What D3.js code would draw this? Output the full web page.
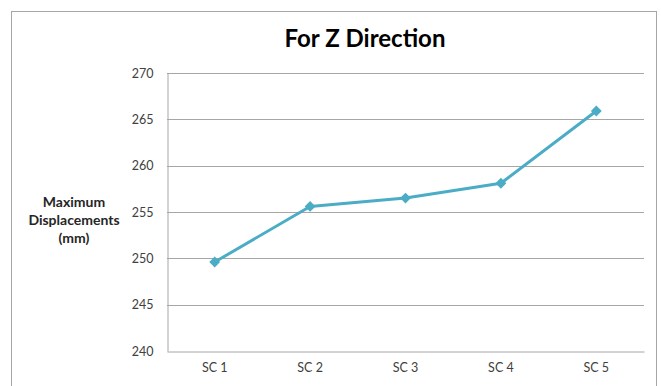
<!DOCTYPE html>
<html>
<head>
<meta charset="utf-8">
<script src="https://cdn.jsdelivr.net/npm/d3@7"></script>
<style>
  html, body { margin: 0; padding: 0; background: #fff; }
  svg { display: block; }
  text { font-family: Lato, "Open Sans", "DejaVu Sans", sans-serif; }
</style>
</head>
<body>
<script>
// Maximum displacement per scenario, Z direction
const categories = ["SC 1", "SC 2", "SC 3", "SC 4", "SC 5"];
const displacements = [249.6, 255.6, 256.5, 258.1, 265.9];
const yTicks = [240, 245, 250, 255, 260, 265, 270];
const chartTitle = "For Z Direction";
const yTitleLines = ["Maximum", "Displacements", "(mm)"];

const W = 661, H = 386;
const plot = { left: 167, right: 644, top: 73, bottom: 351 };

const svg = d3.select("body").append("svg")
  .attr("width", W).attr("height", H);

svg.append("rect").attr("width", W).attr("height", H).attr("fill", "#fff");

// chart frame
svg.append("rect")
  .attr("x", 11.5).attr("y", 11.5)
  .attr("width", 645).attr("height", 390)
  .attr("fill", "none").attr("stroke", "#a6a6a6").attr("stroke-width", 1);

const x = d3.scaleBand().domain(categories).range([plot.left, plot.right]);
const y = d3.scaleLinear().domain([240, 270]).range([plot.bottom, plot.top]);

// horizontal gridlines
svg.append("g")
  .selectAll("line").data(yTicks.filter(t => t !== 240)).join("line")
  .attr("x1", plot.left).attr("x2", plot.right)
  .attr("y1", d => Math.round(y(d)) + 0.5).attr("y2", d => Math.round(y(d)) + 0.5)
  .attr("stroke", "#a6a6a6").attr("stroke-width", 1);

// y axis
const yAxis = svg.append("g")
  .attr("transform", `translate(${plot.left + 0.5},0)`)
  .call(d3.axisLeft(y).tickValues(yTicks).tickSize(0).tickPadding(14));
yAxis.select(".domain").attr("stroke", "#a6a6a6");
yAxis.selectAll("text").attr("font-size", 12.5).attr("fill", "#404040");

// x axis
const xAxis = svg.append("g")
  .attr("transform", `translate(0,${Math.round(plot.bottom) + 0.5})`)
  .call(d3.axisBottom(x).tickSize(0).tickPadding(12));
xAxis.select(".domain").attr("stroke", "#a6a6a6");
xAxis.selectAll("text").attr("font-size", 12.5).attr("fill", "#404040");

// title
svg.append("text")
  .attr("x", 365).attr("y", 47)
  .attr("text-anchor", "middle")
  .attr("font-size", 24).attr("font-weight", "bold").attr("fill", "#000")
  .text(chartTitle);

// y axis title
svg.append("text")
  .attr("text-anchor", "middle")
  .attr("font-size", 14).attr("font-weight", "bold").attr("fill", "#262626")
  .selectAll("tspan").data(yTitleLines).join("tspan")
  .attr("x", 74).attr("y", (d, i) => 207 + i * 18)
  .text(d => d);

// series line
const cx = c => x(c) + x.bandwidth() / 2;
const pts = categories.map((c, i) => [cx(c), y(displacements[i])]);

svg.append("path")
  .datum(pts)
  .attr("fill", "none")
  .attr("stroke", "#4bacc6")
  .attr("stroke-width", 3)
  .attr("stroke-linejoin", "round")
  .attr("d", d3.line());

// diamond markers
svg.append("g")
  .selectAll("path").data(pts).join("path")
  .attr("transform", d => `translate(${d[0]},${d[1]})`)
  .attr("d", d3.symbol(d3.symbolDiamond2, 75)())
  .attr("fill", "#4bacc6");
</script>
</body>
</html>
